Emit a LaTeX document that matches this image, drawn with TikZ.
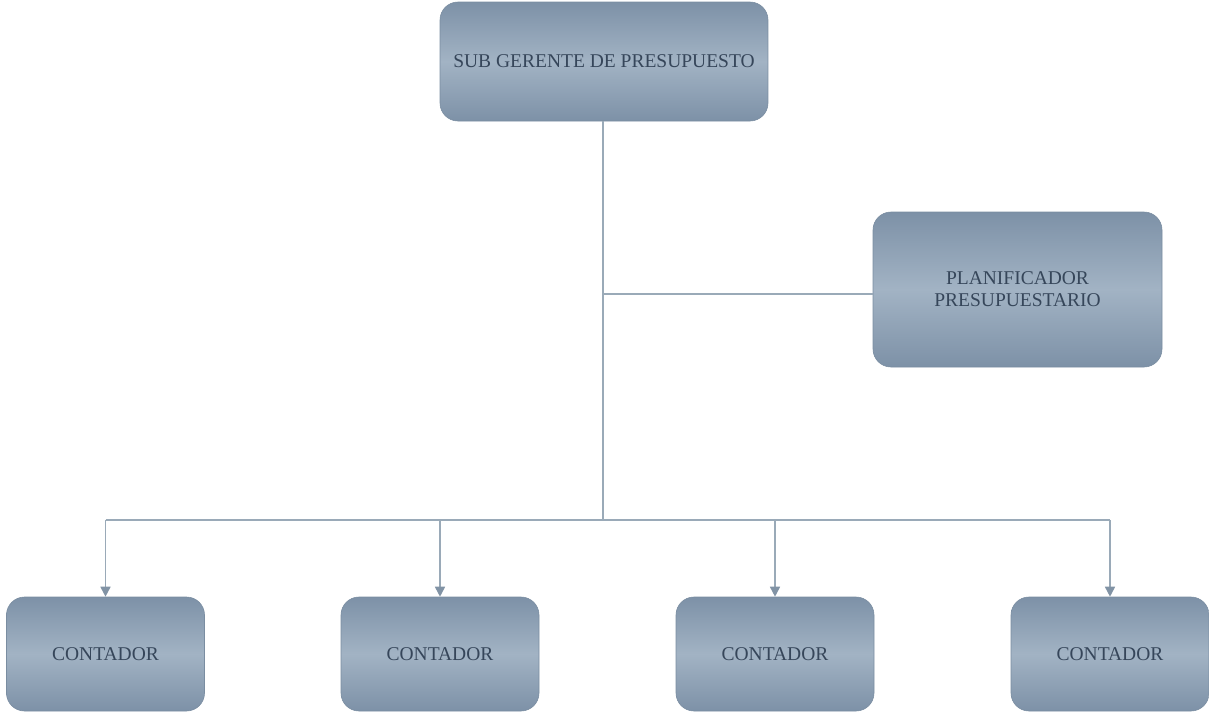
\documentclass[tikz,border=0pt]{standalone}
\usepackage{fontspec}
\setmainfont{Liberation Serif}
\usetikzlibrary{arrows.meta}
\definecolor{boxtop}{HTML}{7D91A7}
\definecolor{boxmid}{HTML}{A2B3C4}
\definecolor{boxedge}{HTML}{7A8DA1}
\definecolor{boxtext}{HTML}{36465A}
\definecolor{linkcol}{HTML}{9AAAB8}
\definecolor{tipcol}{HTML}{8193A5}
\tikzset{
  orgbox/.style={rounded corners=18pt, top color=boxtop, bottom color=boxtop,
    middle color=boxmid, draw=boxedge, line width=0.6pt,
    text=boxtext, font=\fontsize{19.5}{22}\selectfont, align=center,
    inner sep=0pt},
  link/.style={draw=linkcol, line width=1.6pt},
  feed/.style={link, -{Triangle[length=10pt,width=10pt,color=tipcol]}}
}
\begin{document}
\begin{tikzpicture}[x=1pt,y=-1pt]
\useasboundingbox (0,0) rectangle (1209,713);

\node[orgbox, minimum width=328pt, minimum height=119pt] (head) at (604,61.5) {SUB GERENTE DE PRESUPUESTO};
\node[orgbox, minimum width=289pt, minimum height=155pt] (plan) at (1017.5,289.5) {PLANIFICADOR\\PRESUPUESTARIO};

\node[orgbox, minimum width=198pt, minimum height=114pt] (c1) at (105.5,654) {CONTADOR};
\node[orgbox, minimum width=198pt, minimum height=114pt] (c2) at (440,654) {CONTADOR};
\node[orgbox, minimum width=198pt, minimum height=114pt] (c3) at (775,654) {CONTADOR};
\node[orgbox, minimum width=198pt, minimum height=114pt] (c4) at (1110,654) {CONTADOR};

% trunk and branch points
\coordinate (hub) at (603,520);
\coordinate (side) at (603,294);

\draw[link] (head.south -| hub) -- (hub);
\draw[link] (side) -- (side -| plan.west);
\draw[link] (c1.north |- hub) -- (c4.north |- hub);

\draw[feed] (c1.north |- hub) -- (c1.north);
\draw[feed] (c2.north |- hub) -- (c2.north);
\draw[feed] (c3.north |- hub) -- (c3.north);
\draw[feed] (c4.north |- hub) -- (c4.north);
\end{tikzpicture}
\end{document}
